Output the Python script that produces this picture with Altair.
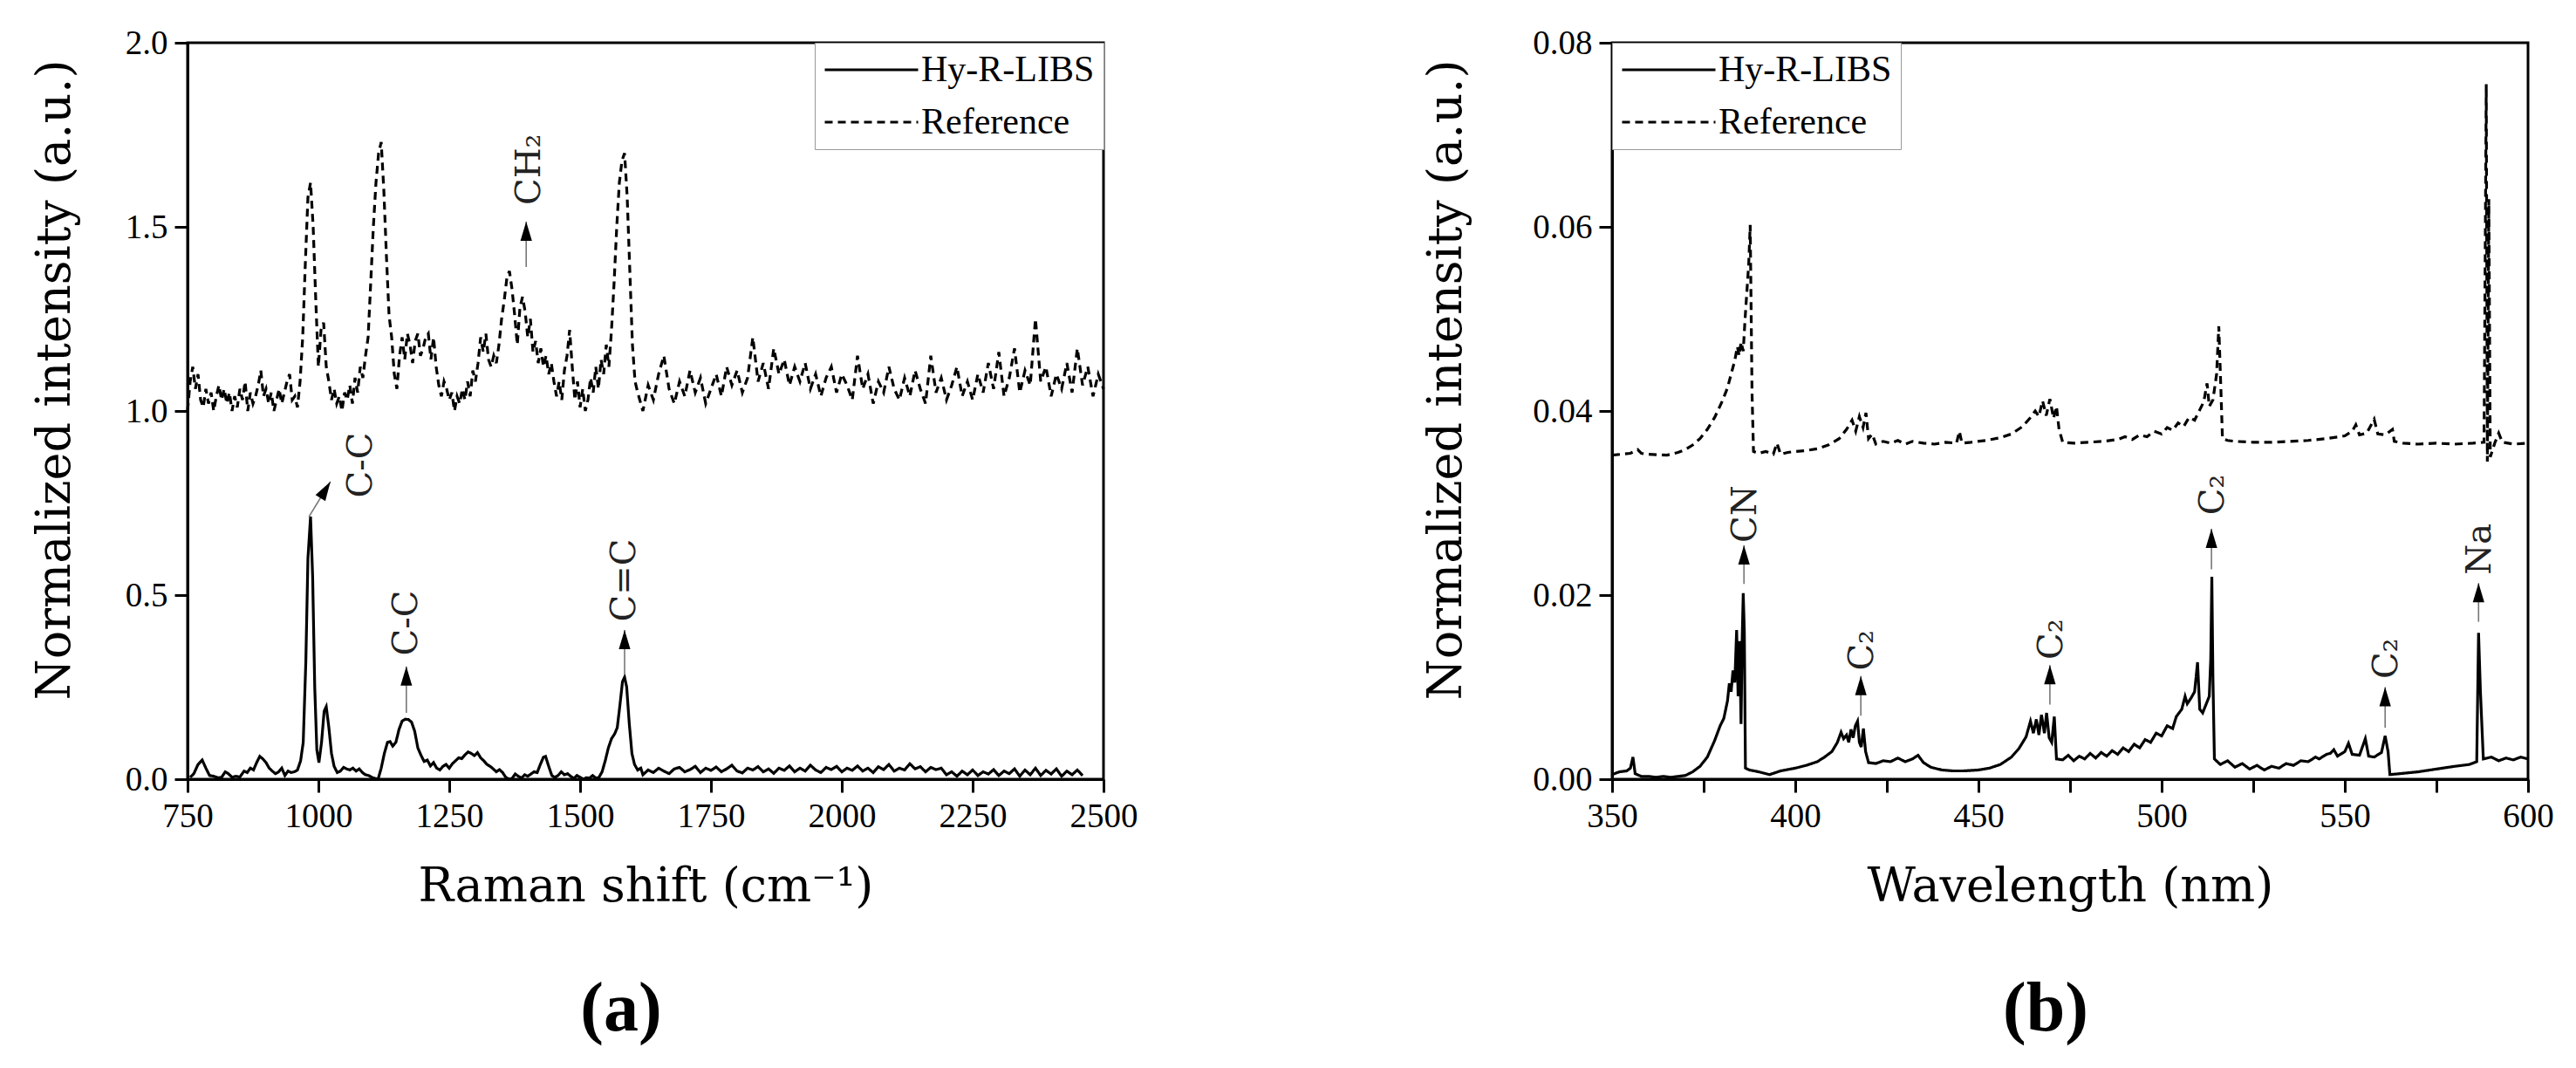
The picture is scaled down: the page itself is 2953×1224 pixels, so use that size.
import math
import altair as alt
import pandas as pd

SERIES = ["Hy-R-LIBS", "Reference"]

# ---------------- (a) Raman spectra ----------------
raman_libs_x = [755, 762, 770, 778, 785, 792, 800, 808, 815, 822, 828, 835, 842, 850, 858, 864, 870, 876, 882, 888,
                894, 900, 906, 912, 918, 924, 930, 936, 942, 948, 954, 960, 966, 971, 976, 980, 985, 989, 993, 997,
                1001, 1006, 1011, 1015, 1020, 1025, 1030, 1036, 1042, 1048, 1054, 1060, 1066, 1072, 1078, 1084, 1090,
                1096, 1102, 1108, 1114, 1120, 1126, 1132, 1137, 1142, 1148, 1154, 1160, 1166, 1172, 1178, 1184, 1190,
                1196, 1202, 1208, 1214, 1220, 1226, 1232, 1238, 1244, 1250, 1256, 1262, 1268, 1274, 1280, 1286, 1292,
                1298, 1304, 1310, 1316, 1322, 1328, 1334, 1340, 1346, 1352, 1358, 1364, 1370, 1376, 1382, 1388, 1394,
                1400, 1406, 1412, 1418, 1424, 1430, 1434, 1440, 1446, 1452, 1458, 1464, 1470, 1476, 1482, 1488, 1494,
                1500, 1506, 1512, 1518, 1524, 1530, 1536, 1542, 1548, 1554, 1560, 1566, 1571, 1576, 1581, 1585, 1589,
                1594, 1599, 1604, 1610, 1616,
                1620, 1630, 1640, 1650, 1660, 1670, 1680, 1690, 1700, 1710, 1720, 1730, 1740, 1750, 1760, 1770, 1780,
                1790, 1800, 1810, 1820, 1830, 1840, 1850, 1860, 1870, 1880, 1890, 1900, 1910, 1920, 1930, 1940, 1950,
                1960, 1970, 1980, 1990, 2000, 2010, 2020, 2030, 2040, 2050, 2060, 2070, 2080, 2090, 2100, 2110, 2120,
                2130, 2140, 2150, 2160, 2170, 2180, 2190, 2200, 2210, 2220, 2230, 2240, 2250, 2260, 2270, 2280, 2290,
                2300, 2310, 2320, 2330, 2340, 2350, 2360, 2370, 2380, 2390, 2400, 2410, 2420, 2430, 2440, 2450, 2460]
raman_libs_y = [0.005, 0.015, 0.04, 0.052, 0.03, 0.01, 0.008, 0.004, 0.005, 0.02, 0.015, 0.005, 0.008, 0.006, 0.022,
                0.018, 0.03, 0.025, 0.045, 0.062, 0.055, 0.045, 0.03, 0.022, 0.015, 0.02, 0.03, 0.01, 0.022, 0.018,
                0.02, 0.025, 0.05, 0.1, 0.32, 0.6, 0.713, 0.55, 0.25, 0.08, 0.045, 0.1, 0.185, 0.197, 0.14, 0.07,
                0.035, 0.018, 0.022, 0.032, 0.028, 0.025, 0.03, 0.022, 0.028, 0.018, 0.012, 0.01, 0.005, 0.002, 0.0,
                0.03, 0.07, 0.1, 0.102, 0.09, 0.1, 0.135, 0.158, 0.163, 0.162, 0.155, 0.13, 0.085, 0.065, 0.048,
                0.052, 0.036, 0.045, 0.03, 0.025, 0.035, 0.04, 0.03, 0.042, 0.05, 0.058, 0.056, 0.066, 0.074, 0.07,
                0.064, 0.072, 0.058, 0.05, 0.04, 0.035, 0.028, 0.02, 0.026, 0.018, 0.005, 0.0, 0.002, 0.014, 0.008,
                0.003, 0.012, 0.008, 0.014, 0.02, 0.018, 0.04, 0.06, 0.062, 0.035, 0.01, 0.005, 0.01, 0.02, 0.012,
                0.015, 0.008, 0.002, 0.01, 0.005, 0.0, 0.004, 0.003, 0.01, 0.003, 0.005, 0.02, 0.05, 0.085, 0.11,
                0.123, 0.14, 0.2, 0.265, 0.277, 0.25, 0.15, 0.07, 0.04, 0.025, 0.03,
                0.012, 0.025, 0.018, 0.03, 0.022, 0.015, 0.028, 0.032, 0.02, 0.026, 0.035, 0.018, 0.03, 0.024, 0.033,
                0.02, 0.028, 0.038, 0.022, 0.017, 0.03, 0.025, 0.034, 0.02, 0.028, 0.016, 0.03, 0.024, 0.036, 0.02,
                0.03, 0.022, 0.038, 0.025, 0.018, 0.032, 0.026, 0.035, 0.02, 0.03, 0.024, 0.036, 0.022, 0.03, 0.018,
                0.034, 0.026, 0.04, 0.022, 0.03, 0.025, 0.042, 0.028, 0.034, 0.02, 0.032, 0.026, 0.03, 0.012, 0.02,
                0.008, 0.022, 0.012, 0.025, 0.01, 0.02, 0.014, 0.026, 0.01, 0.022, 0.015, 0.028, 0.008, 0.025, 0.012,
                0.03, 0.01, 0.024, 0.014, 0.028, 0.008, 0.022, 0.012, 0.025, 0.01]

raman_ref_x = [750, 755, 760, 765, 770, 775, 780, 785, 790, 795, 800, 805, 810, 815, 820, 825, 830, 835, 840, 845,
               850, 855, 860, 865, 870, 875, 880, 885, 890, 895, 900, 905, 910, 915, 920, 925, 930, 935, 940, 945,
               950, 955, 960, 965, 970, 975, 980, 985, 990, 995, 1000, 1005, 1010, 1015, 1020, 1025, 1030, 1035,
               1040, 1045, 1050, 1055, 1060, 1065, 1070, 1075, 1080, 1085, 1090, 1095, 1100, 1105, 1110, 1115, 1120,
               1125, 1130, 1135, 1140, 1145, 1150, 1155, 1160, 1165, 1170, 1175, 1180, 1185, 1190, 1195, 1200, 1205,
               1210, 1215, 1220, 1225, 1230, 1235, 1240, 1245, 1250, 1255, 1260, 1265, 1270, 1275, 1280, 1285, 1290,
               1295, 1300, 1305, 1310, 1315, 1320, 1325, 1330, 1335, 1340, 1345, 1350, 1355, 1360, 1365, 1370, 1375,
               1380, 1385, 1390, 1395, 1400, 1405, 1410, 1415, 1420, 1425, 1430, 1435, 1440, 1445, 1450, 1455, 1460,
               1465, 1470, 1475, 1480, 1485, 1490, 1495, 1500, 1505, 1510, 1515, 1520, 1525, 1530, 1535, 1540, 1545,
               1550, 1555, 1560, 1565, 1570, 1575, 1580, 1585, 1590, 1595, 1600, 1605,
               1610, 1620, 1630, 1640, 1650, 1660, 1670, 1680, 1690, 1700, 1710, 1720, 1730, 1740, 1750, 1760, 1770,
               1780, 1790, 1800, 1810, 1820, 1830, 1840, 1850, 1860, 1870, 1880, 1890, 1900, 1910, 1920, 1930, 1940,
               1950, 1960, 1970, 1980, 1990, 2000, 2010, 2020, 2030, 2040, 2050, 2060, 2070, 2080, 2090, 2100, 2110,
               2120, 2130, 2140, 2150, 2160, 2170, 2180, 2190, 2200, 2210, 2220, 2230, 2240, 2250, 2260, 2270, 2280,
               2290, 2300, 2310, 2320, 2330, 2340, 2350, 2360, 2370, 2380, 2390, 2400, 2410, 2420, 2430, 2440, 2450,
               2460, 2470, 2480, 2490, 2500]
raman_ref_y = [1.0, 1.08, 1.12, 1.06, 1.1, 1.03, 1.01, 1.06, 1.02, 1.05, 1.0, 1.04, 1.07, 1.03, 1.06, 1.02, 1.05, 1.0,
               1.04, 1.01, 1.06, 1.03, 1.08, 1.0, 1.05, 1.02, 1.04, 1.07, 1.11, 1.04, 1.06, 1.02, 1.05, 1.0, 1.03,
               1.06, 1.02, 1.05, 1.08, 1.1, 1.03, 1.04, 1.01, 1.08, 1.2, 1.4, 1.58, 1.62, 1.5, 1.3, 1.12, 1.22, 1.24,
               1.12, 1.08, 1.03, 1.06, 1.02, 1.04, 1.0, 1.05, 1.03, 1.07, 1.02, 1.09, 1.05, 1.12, 1.09, 1.15, 1.2,
               1.35, 1.5, 1.62, 1.7, 1.73, 1.6, 1.42, 1.26, 1.2, 1.1, 1.06, 1.15, 1.2, 1.14, 1.21, 1.18, 1.13, 1.19,
               1.21, 1.15, 1.17, 1.2, 1.21, 1.14, 1.2, 1.12, 1.07, 1.04, 1.08, 1.06, 1.03, 1.05, 1.0, 1.04, 1.02,
               1.06, 1.03, 1.08, 1.04, 1.11, 1.08, 1.13, 1.2, 1.16, 1.21, 1.14, 1.12, 1.15, 1.13, 1.18, 1.25, 1.3,
               1.36, 1.38, 1.33, 1.26, 1.18, 1.28, 1.31, 1.27, 1.2, 1.25, 1.16, 1.19, 1.13, 1.17, 1.12, 1.15, 1.1,
               1.13, 1.08, 1.04, 1.08, 1.03, 1.11, 1.15, 1.22, 1.12, 1.03, 1.08, 1.01, 1.06, 1.0, 1.03, 1.09, 1.05,
               1.12, 1.06, 1.14, 1.1, 1.18, 1.12, 1.22, 1.35, 1.5, 1.62, 1.68, 1.7, 1.58, 1.38, 1.18, 1.08,
               1.05, 1.0, 1.07, 1.03, 1.1, 1.15, 1.06, 1.02, 1.08, 1.04, 1.11, 1.05, 1.09, 1.02, 1.06, 1.1, 1.04,
               1.12, 1.07, 1.11, 1.05, 1.09, 1.2, 1.08, 1.13, 1.06, 1.17, 1.1, 1.14, 1.07, 1.12, 1.08, 1.13, 1.06,
               1.1, 1.04, 1.09, 1.12, 1.05, 1.1, 1.07, 1.03, 1.15, 1.06, 1.1, 1.02, 1.08, 1.05, 1.12, 1.06, 1.03,
               1.09, 1.04, 1.11, 1.06, 1.02, 1.15, 1.05, 1.09, 1.03, 1.07, 1.12, 1.04, 1.08, 1.03, 1.1, 1.05, 1.13,
               1.06, 1.16, 1.04, 1.09, 1.17, 1.05, 1.11, 1.07, 1.25, 1.08, 1.12, 1.04, 1.1, 1.06, 1.13, 1.05, 1.17,
               1.07, 1.12, 1.04, 1.1, 1.06]

raman_xticks = [750, 1000, 1250, 1500, 1750, 2000, 2250, 2500]
raman_yticks = [0.0, 0.5, 1.0, 1.5, 2.0]

raman_labels = ["C-C", "C-C", "C=C", "CH₂"]
raman_label_x = [1082, 1168, 1585, 1403]
raman_label_y = [0.853, 0.424, 0.54, 1.656]
raman_arrow_x = [982, 1168, 1585, 1397]
raman_arrow_y = [0.713, 0.180, 0.284, 1.391]
raman_arrow_x2 = [1023, 1168, 1585, 1397]
raman_arrow_y2 = [0.808, 0.306, 0.405, 1.514]

# ---------------- (b) LIBS spectra ----------------
libs_libs_x = [350, 352, 354, 355, 355.7, 356.3, 358, 360, 362, 364, 366, 368, 370, 372, 374, 376, 378, 379.5, 380.5,
               381.5, 382, 382.5, 383, 383.5, 384, 384.4, 384.8, 385.2, 385.5, 385.8, 386.1, 386.4, 387.5, 390, 393,
               396, 400, 403, 406, 408, 410, 411.5, 412.5, 413.2, 414, 414.6, 415.2, 415.8, 416.4, 417, 417.5, 418,
               418.6, 419.2, 420, 422, 424, 426, 428, 430, 432, 433.5, 435, 437, 440, 443, 446, 450, 453, 456, 459,
               461, 463, 464.2, 465, 465.8, 466.5, 467.2, 468, 468.6, 469.3, 470, 470.7, 471.3,
               473, 474.5, 476, 477.5, 479, 480.5, 482, 483.5, 485, 486.5, 488, 489.5, 491, 492.5, 494, 495.5, 497,
               498.5, 500, 501.5, 503, 504, 505.5, 506.4, 507, 508, 509, 509.8, 510.4,
               511.2, 512, 513, 513.4, 513.7, 514, 514.4, 516, 518, 520, 522, 524, 526, 528, 530, 532, 534, 536, 538,
               540, 542, 543, 545, 546, 547, 548, 550,
               551, 552, 554, 555.6, 556.5, 558, 560, 561, 561.8, 562.3, 565, 570, 575, 580, 584, 586, 586.5, 587.0,
               587.8, 590, 592, 594, 596, 598, 600]
libs_libs_y = [0.0005, 0.0008, 0.0009, 0.0012, 0.0024, 0.0006, 0.0003, 0.0003, 0.0002, 0.0003, 0.0002, 0.0003, 0.0004,
               0.0008, 0.0014, 0.0024, 0.0042, 0.0058, 0.0066, 0.0085, 0.0104, 0.0095, 0.0118, 0.0105, 0.0162, 0.009,
               0.015, 0.006, 0.015, 0.0202, 0.016, 0.0012, 0.001, 0.0008, 0.0005, 0.0009, 0.0012, 0.0015, 0.0019,
               0.0024, 0.003, 0.004, 0.0051, 0.0044, 0.0048, 0.004, 0.0054, 0.0045, 0.0058, 0.0063, 0.004, 0.0035,
               0.0055, 0.003, 0.0018, 0.0017, 0.002, 0.0019, 0.0023, 0.0019, 0.0022, 0.0026, 0.0018, 0.0013, 0.001,
               0.0009, 0.0009, 0.001, 0.0012, 0.0016, 0.0024, 0.0033, 0.0046, 0.0063, 0.005, 0.0065, 0.0048, 0.007,
               0.005, 0.0072, 0.0045, 0.004, 0.0068, 0.0022,
               0.0021, 0.0026, 0.002, 0.0025, 0.0022, 0.0028, 0.0023, 0.0029, 0.0025, 0.0031, 0.0027, 0.0034, 0.003,
               0.0038, 0.0034, 0.0043, 0.004, 0.005, 0.0047, 0.0058, 0.0055, 0.0068, 0.0076, 0.009, 0.0082, 0.0088,
               0.0095, 0.0127, 0.0076, 0.0072, 0.008, 0.009, 0.013, 0.022, 0.011, 0.0022,
               0.0016, 0.002, 0.0013, 0.0017, 0.0011, 0.0015, 0.001, 0.0014, 0.0012, 0.0017, 0.0015, 0.002, 0.0019,
               0.0024, 0.0022, 0.0027, 0.0028, 0.0032, 0.0025, 0.003, 0.0039, 0.0027, 0.0026, 0.0044,
               0.0025, 0.0024, 0.0029, 0.0047, 0.003, 0.0005, 0.0006, 0.0008, 0.0011, 0.0014, 0.0016, 0.0019, 0.0159,
               0.0096, 0.0022, 0.0024, 0.002, 0.0023, 0.0021, 0.0024, 0.0022]

libs_ref_x = [350, 355, 357, 358, 360, 365, 368, 370, 372, 374, 376, 378, 380, 381.5, 382.5, 383.5, 384.2, 384.7,
              385.2, 385.8, 386.3, 386.8, 387.3, 387.7, 388.2, 388.6, 390, 392, 394, 395, 396, 398, 400, 403, 406,
              409, 412, 414, 415.5, 416.5, 417.5, 418.5, 419.3, 420, 421, 422, 424, 426, 428, 430, 432, 435, 438,
              441, 444, 444.8, 445.5, 448, 452, 456, 459, 462, 464, 465.5, 466.5, 467.5, 468.5, 469.5, 470.5, 471.3,
              472, 473, 476, 480, 484, 488, 490, 492, 494, 496, 498, 500, 501.5, 503, 504.5, 506, 507.5, 509, 510.5,
              511.5, 512.4, 513, 514, 515,
              515.6, 516.2, 516.6, 518, 520, 525, 530, 535, 540, 545, 550, 552, 553, 554, 556, 558, 559, 561, 563,
              563.5, 566, 570, 575, 580, 585, 588, 588.6, 588.9, 589.3, 589.7, 591, 592, 593, 596, 600]
libs_ref_y = [0.0352, 0.0354, 0.0358, 0.0354, 0.0353, 0.0352, 0.0355, 0.0358, 0.0363, 0.037, 0.038, 0.0393, 0.041,
              0.0425, 0.044, 0.0455, 0.047, 0.046, 0.0475, 0.0465, 0.05, 0.053, 0.056, 0.0602, 0.042, 0.0356, 0.0354,
              0.0356, 0.0353, 0.0365, 0.0353, 0.0355, 0.0356, 0.0357, 0.0359, 0.0363, 0.037, 0.038, 0.039, 0.0378,
              0.0394, 0.0382, 0.0398, 0.037, 0.0375, 0.0364, 0.0367, 0.0365, 0.0368, 0.0364, 0.0367, 0.0365, 0.0364,
              0.0366, 0.0365, 0.0378, 0.0365, 0.0366, 0.0368, 0.0371, 0.0375, 0.0383, 0.0392, 0.04, 0.0394, 0.0411,
              0.0395, 0.0413, 0.0392, 0.0405, 0.038, 0.0366, 0.0365, 0.0366, 0.0367, 0.0369, 0.0372, 0.0369, 0.0374,
              0.0372, 0.0378, 0.0375, 0.0382, 0.0379, 0.0387, 0.0383, 0.0393, 0.039, 0.0402,
              0.041, 0.043, 0.0405, 0.0412, 0.044, 0.0492, 0.042, 0.037,
              0.0368, 0.0367, 0.0366, 0.0366, 0.0367, 0.0368, 0.037, 0.0373, 0.0378, 0.0385, 0.0374, 0.0376, 0.0391,
              0.0375, 0.0374, 0.038, 0.0367, 0.0365, 0.0364, 0.0365, 0.0364, 0.0365, 0.0366, 0.0755, 0.0345, 0.063,
              0.035, 0.0366, 0.0376, 0.0366, 0.0364, 0.0365]

libs_xticks = [350, 375, 400, 425, 450, 475, 500, 525, 550, 575, 600]
libs_yticks = [0.0, 0.02, 0.04, 0.06, 0.08]

libs_labels = ["CN", "C₂", "C₂", "C₂", "C₂", "Na"]
libs_label_x = [386.5, 418.3, 470.0, 514.1, 561.5, 587.0]
libs_label_y = [0.0288, 0.014, 0.0152, 0.0309, 0.0131, 0.025]
libs_arrow_x = [386, 417.9, 469.5, 513.6, 561, 586.5]
libs_arrow_y = [0.0212, 0.0069, 0.0081, 0.0228, 0.0056, 0.0171]
libs_arrow_x2 = [386, 417.9, 469.5, 513.6, 561, 586.5]
libs_arrow_y2 = [0.0254, 0.0112, 0.0124, 0.0272, 0.0100, 0.0213]

# ---------------- chart building ----------------
W, H = 1050, 844
ARROW_HEAD = "M0,0L0.6,2L-0.6,2Z"
TITLE_FONT = "DejaVu Serif"
TICK_FONT = "Liberation Serif"


def panel(lx1, ly1, lx2, ly2, xdom, ydom, xvals, yvals, xfmt, yfmt, xtitle, title_x,
          labels, tx, ty, ax, ay, ax2, ay2, legend_orient, caption, label_expr=""):
    spectra = pd.DataFrame({
        "x": lx1 + lx2,
        "y": ly1 + ly2,
        "series": [SERIES[0]] * len(lx1) + [SERIES[1]] * len(lx2),
    })
    sx = W / (xdom[1] - xdom[0])
    sy = H / (ydom[1] - ydom[0])
    arrows = pd.DataFrame({"x": ax, "y": ay, "x2": ax2, "y2": ay2})
    arrows["angle"] = [math.degrees(math.atan2((b - a) * sx, (d - c) * sy))
                       for a, b, c, d in zip(ax, ax2, ay, ay2)]
    texts = pd.DataFrame({"x": tx, "y": ty, "label": labels})

    xscale = alt.Scale(domain=xdom, nice=False, zero=False)
    yscale = alt.Scale(domain=ydom, nice=False, zero=False)

    xaxis_kw = dict(values=xvals, format=xfmt, title=xtitle, titlePadding=34)
    if label_expr:
        xaxis_kw["labelExpr"] = label_expr
    xaxis = alt.Axis(**xaxis_kw)
    yaxis = alt.Axis(values=yvals, format=yfmt, title="Normalized intensity (a.u.)",
                     titleX=title_x, titleY=386)

    lines = alt.Chart(spectra).mark_line(strokeWidth=3.2, color="black").encode(
        x=alt.X("x:Q", scale=xscale, axis=xaxis),
        y=alt.Y("y:Q", scale=yscale, axis=yaxis),
        strokeDash=alt.StrokeDash(
            "series:N",
            scale=alt.Scale(domain=SERIES, range=[[1, 0], [9, 6]]),
            legend=alt.Legend(title=None, orient=legend_orient, offset=0),
        ),
    )
    shafts = alt.Chart(arrows).mark_rule(color="#777777", strokeWidth=1.6).encode(
        x=alt.X("x:Q", scale=xscale, axis=xaxis),
        y=alt.Y("y:Q", scale=yscale, axis=yaxis),
        x2="x2:Q",
        y2="y2:Q",
    )
    heads = alt.Chart(arrows).mark_point(shape=ARROW_HEAD, filled=True, color="black",
                                         opacity=1, size=484).encode(
        x=alt.X("x2:Q", scale=xscale, axis=xaxis),
        y=alt.Y("y2:Q", scale=yscale, axis=yaxis),
        angle=alt.Angle("angle:Q", scale=None),
    )
    notes = alt.Chart(texts).mark_text(angle=270, font=TITLE_FONT, fontSize=40, align="center",
                                       baseline="middle", color="#222222").encode(
        x=alt.X("x:Q", scale=xscale, axis=xaxis),
        y=alt.Y("y:Q", scale=yscale, axis=yaxis),
        text="label:N",
    )
    return alt.layer(lines, shafts, heads, notes).properties(
        width=W, height=H,
        title=alt.TitleParams(caption, orient="bottom", anchor="middle", font=TICK_FONT,
                              fontSize=80, fontWeight="bold", color="black", offset=75, dx=-28),
    )


pa = panel(raman_libs_x, raman_libs_y, raman_ref_x, raman_ref_y, [750, 2500], [0, 2],
           raman_xticks, raman_yticks, "d", ".1f", "Raman shift (cm⁻¹)", -125,
           raman_labels, raman_label_x, raman_label_y, raman_arrow_x, raman_arrow_y,
           raman_arrow_x2, raman_arrow_y2, "top-right", "(a)")
pb = panel(libs_libs_x, libs_libs_y, libs_ref_x, libs_ref_y, [350, 600], [0, 0.08],
           libs_xticks, libs_yticks, "d", ".2f", "Wavelength (nm)", -163,
           libs_labels, libs_label_x, libs_label_y, libs_arrow_x, libs_arrow_y,
           libs_arrow_x2, libs_arrow_y2, "top-left", "(b)",
           label_expr="datum.value % 50 == 0 ? datum.label : ''")

chart = alt.hconcat(pa, pb, spacing=323).resolve_scale(
    strokeDash="independent"
).resolve_legend(
    strokeDash="independent"
).configure_view(
    stroke="black", strokeWidth=3
).configure_axis(
    grid=False, labelFlush=False,
    domainColor="black", domainWidth=3,
    tickColor="black", tickWidth=3, tickSize=15,
    labelFont=TICK_FONT, labelFontSize=39, labelColor="black", labelPadding=8,
    titleFont=TITLE_FONT, titleFontSize=54, titleFontWeight="normal", titleColor="black",
).configure_legend(
    strokeColor="#999999", fillColor="white", padding=10, labelLimit=0, clipHeight=42,
    symbolType="stroke", symbolSize=11449, symbolStrokeWidth=3, symbolStrokeColor="black",
    labelFont=TICK_FONT, labelFontSize=42, labelColor="black", labelOffset=2, rowPadding=18,
).properties(
    padding={"left": 26, "top": 20, "right": 5, "bottom": 5},
)

chart.save("out.html", embed_options={"renderer": "svg", "actions": False})
